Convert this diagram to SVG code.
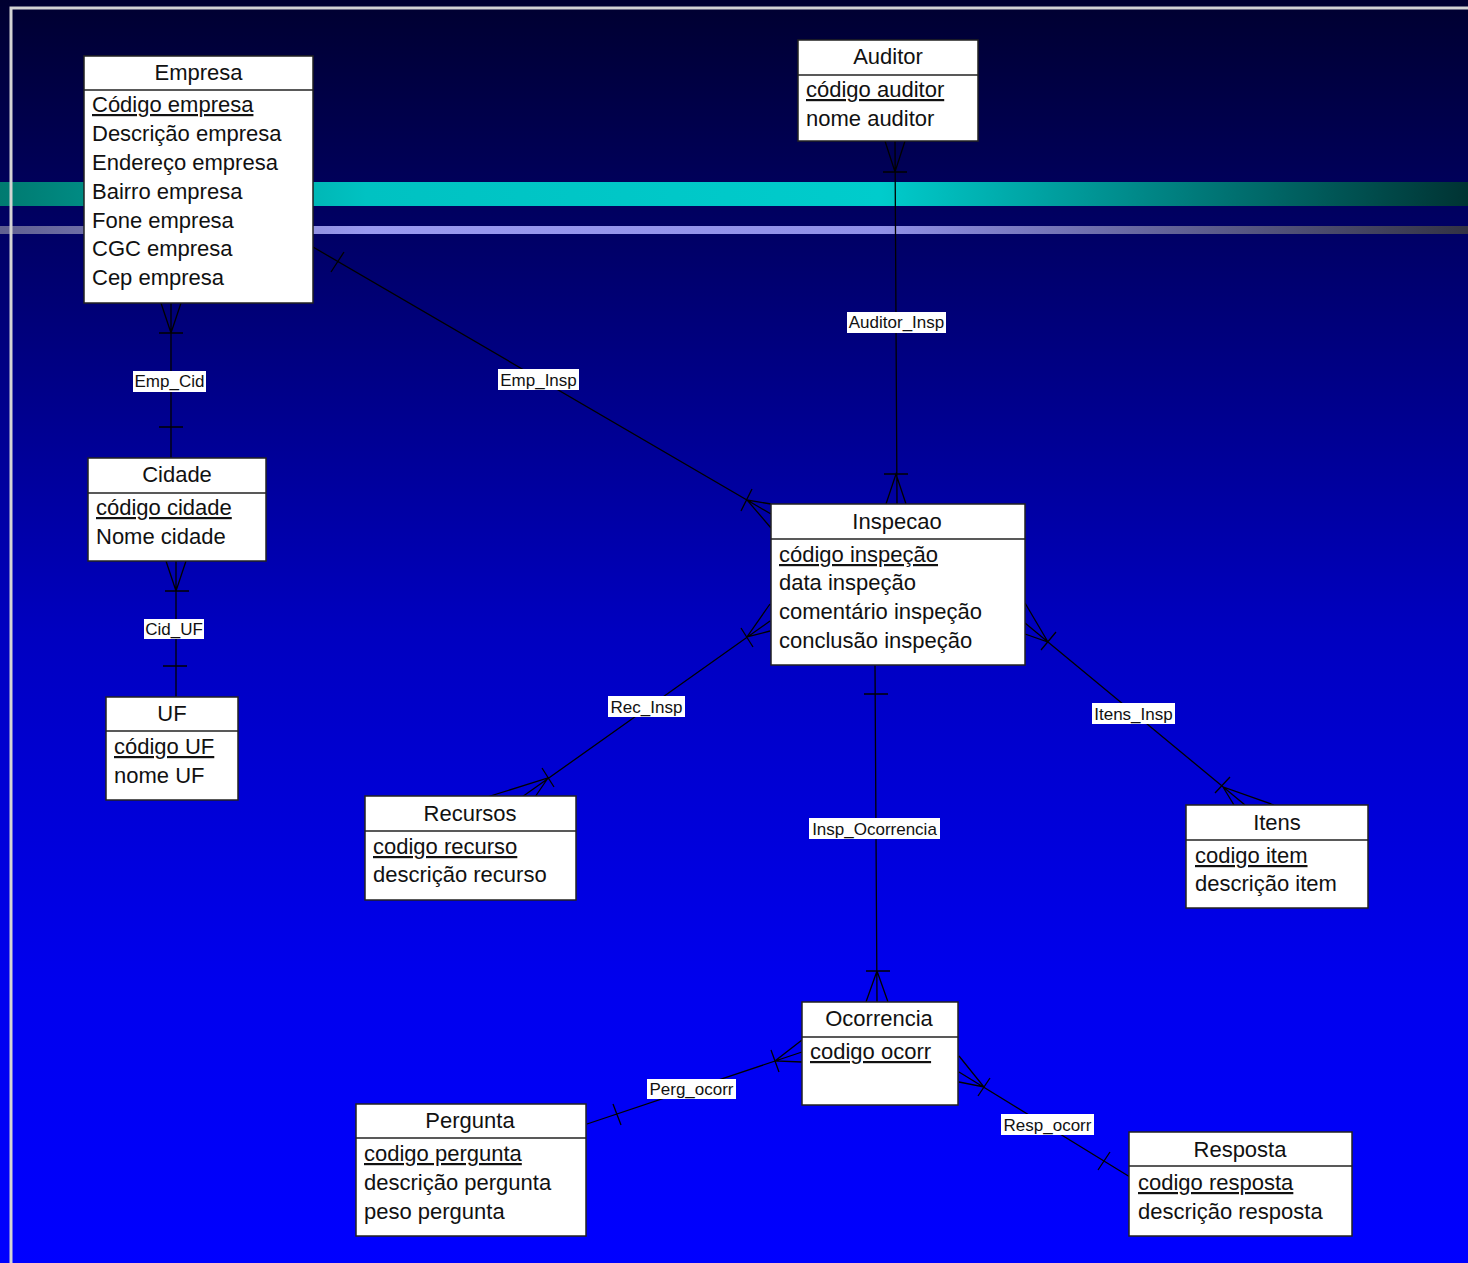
<svg xmlns="http://www.w3.org/2000/svg" width="1468" height="1263" viewBox="0 0 1468 1263">
<defs>
<linearGradient id="bg" x1="0" y1="0" x2="0" y2="1">
<stop offset="0" stop-color="#000030"/>
<stop offset="0.25" stop-color="#000078"/>
<stop offset="0.5" stop-color="#0000c0"/>
<stop offset="0.78" stop-color="#0000ee"/>
<stop offset="1" stop-color="#0000ff"/>
</linearGradient>
<linearGradient id="teal" x1="0" y1="0" x2="1" y2="0">
<stop offset="0" stop-color="#007a70"/>
<stop offset="0.25" stop-color="#00c2c2"/>
<stop offset="0.6" stop-color="#00cccc"/>
<stop offset="1" stop-color="#003333"/>
</linearGradient>
<linearGradient id="lav" x1="0" y1="0" x2="1" y2="0">
<stop offset="0" stop-color="#606090"/>
<stop offset="0.25" stop-color="#9999f0"/>
<stop offset="0.6" stop-color="#9090e8"/>
<stop offset="1" stop-color="#333344"/>
</linearGradient>
<style>
.box{fill:#fff;stroke:#222;stroke-width:1.5}
.sep{stroke:#222;stroke-width:1.5}
.t{font-family:"Liberation Sans",Arial,sans-serif;font-size:22px;fill:#111}
.c{text-anchor:middle}
.k{text-decoration:underline}
.ln{stroke:#000;stroke-width:1.3;fill:none}
.lb{fill:#fff}
.lt{font-family:"Liberation Sans",Arial,sans-serif;font-size:17px;fill:#111;text-anchor:middle}
</style>
</defs>
<rect x="0" y="0" width="1468" height="1263" fill="url(#bg)"/>
<rect x="0" y="182" width="1468" height="24" fill="url(#teal)"/>
<rect x="0" y="226" width="1468" height="8" fill="url(#lav)"/>
<path d="M11,1263 V8 H1468" fill="none" stroke="#d4d4d4" stroke-width="3"/>

<g id="connectors">
<!-- Emp_Cid -->
<path class="ln" d="M171,303 V458 M161,303 L171,333 L181,303 M159,333 H183 M159,427 H183"/>
<!-- Cid_UF -->
<path class="ln" d="M176,561 V697 M166,561 L176,591 L186,561 M165,591 H189 M163,666 H187"/>
<!-- Emp_Insp -->
<path class="ln" d="M313,247 L771,514 M331,272 L344,252 M771,504 L747,500 L771,528 M741,511 L752,489"/>
<!-- Auditor_Insp -->
<path class="ln" d="M895,141 L897,504 M885,141 L895,172 L905,141 M883,172 H907 M886,504 L896,474 L906,504 M884,474 H908"/>
<!-- Rec_Insp -->
<path class="ln" d="M522,797 L770,621 M487,797 L548,778 L535,797 M542,768 L554,787 M770,604 L747,637 L770,631 M741,628 L753,647"/>
<!-- Itens_Insp -->
<path class="ln" d="M1025,623 L1245,805 M1025,603 L1048,642 L1025,634 M1041,650 L1056,632 M1234,805 L1223,787 L1274,805 M1215,793 L1230,777"/>
<!-- Insp_Ocorrencia -->
<path class="ln" d="M875,665 L877,1002 M864,694 H888 M866,971 H890 M866,1002 L877,971 L888,1002"/>
<!-- Perg_ocorr -->
<path class="ln" d="M587,1124 L802,1052 M613,1104 L621,1125 M802,1040 L775,1061 L802,1062 M771,1050 L779,1072"/>
<!-- Resp_ocorr -->
<path class="ln" d="M959,1072 L1130,1177 M959,1056 L984,1087 L959,1082 M978,1096 L990,1078 M1098,1170 L1110,1152"/>
<g id="labels">
<rect class="lb" x="133" y="371" width="73" height="21"/><text class="lt" x="169.5" y="387">Emp_Cid</text>
<rect class="lb" x="498" y="369" width="81" height="21"/><text class="lt" x="538.5" y="386">Emp_Insp</text>
<rect class="lb" x="847" y="312" width="99" height="21"/><text class="lt" x="896.5" y="328">Auditor_Insp</text>
<rect class="lb" x="144" y="619" width="60" height="20"/><text class="lt" x="174" y="635">Cid_UF</text>
<rect class="lb" x="608" y="696" width="77" height="21"/><text class="lt" x="646.5" y="713">Rec_Insp</text>
<rect class="lb" x="1092" y="703" width="83" height="21"/><text class="lt" x="1133.5" y="720">Itens_Insp</text>
<rect class="lb" x="809" y="818" width="131" height="21"/><text class="lt" x="874.5" y="835">Insp_Ocorrencia</text>
<rect class="lb" x="647" y="1079" width="89" height="20"/><text class="lt" x="691.5" y="1095">Perg_ocorr</text>
<rect class="lb" x="1001" y="1114" width="93" height="21"/><text class="lt" x="1047.5" y="1131">Resp_ocorr</text>
</g>
</g>

<g id="empresa">
<rect class="box" x="84" y="56" width="229" height="247"/>
<line class="sep" x1="84" y1="90" x2="313" y2="90"/>
<text class="t c" x="198.5" y="80">Empresa</text>
<text class="t k" x="92" y="112">Código empresa</text>
<text class="t" x="92" y="141">Descrição empresa</text>
<text class="t" x="92" y="170">Endereço empresa</text>
<text class="t" x="92" y="199">Bairro empresa</text>
<text class="t" x="92" y="228">Fone empresa</text>
<text class="t" x="92" y="256">CGC empresa</text>
<text class="t" x="92" y="285">Cep empresa</text>
</g>

<g id="auditor">
<rect class="box" x="798" y="40" width="180" height="101"/>
<line class="sep" x1="798" y1="75" x2="978" y2="75"/>
<text class="t c" x="888" y="64">Auditor</text>
<text class="t k" x="806" y="97">código auditor</text>
<text class="t" x="806" y="126">nome auditor</text>
</g>

<g id="cidade">
<rect class="box" x="88" y="458" width="178" height="103"/>
<line class="sep" x1="88" y1="493" x2="266" y2="493"/>
<text class="t c" x="177" y="482">Cidade</text>
<text class="t k" x="96" y="515">código cidade</text>
<text class="t" x="96" y="544">Nome cidade</text>
</g>

<g id="uf">
<rect class="box" x="106" y="697" width="132" height="103"/>
<line class="sep" x1="106" y1="731" x2="238" y2="731"/>
<text class="t c" x="172" y="721">UF</text>
<text class="t k" x="114" y="754">código UF</text>
<text class="t" x="114" y="783">nome UF</text>
</g>

<g id="inspecao">
<rect class="box" x="771" y="504" width="254" height="161"/>
<line class="sep" x1="771" y1="539" x2="1025" y2="539"/>
<text class="t c" x="897" y="529">Inspecao</text>
<text class="t k" x="779" y="562">código inspeção</text>
<text class="t" x="779" y="590">data inspeção</text>
<text class="t" x="779" y="619">comentário inspeção</text>
<text class="t" x="779" y="648">conclusão inspeção</text>
</g>

<g id="recursos">
<rect class="box" x="365" y="796" width="211" height="104"/>
<line class="sep" x1="365" y1="831" x2="576" y2="831"/>
<text class="t c" x="470" y="821">Recursos</text>
<text class="t k" x="373" y="854">codigo recurso</text>
<text class="t" x="373" y="882">descrição recurso</text>
</g>

<g id="itens">
<rect class="box" x="1186" y="805" width="182" height="103"/>
<line class="sep" x1="1186" y1="840" x2="1368" y2="840"/>
<text class="t c" x="1277" y="830">Itens</text>
<text class="t k" x="1195" y="863">codigo item</text>
<text class="t" x="1195" y="891">descrição item</text>
</g>

<g id="ocorrencia">
<rect class="box" x="802" y="1002" width="156" height="103"/>
<line class="sep" x1="802" y1="1037" x2="958" y2="1037"/>
<text class="t c" x="879" y="1026">Ocorrencia</text>
<text class="t k" x="810" y="1059">codigo ocorr</text>
</g>

<g id="pergunta">
<rect class="box" x="356" y="1104" width="230" height="132"/>
<line class="sep" x1="356" y1="1138" x2="586" y2="1138"/>
<text class="t c" x="470" y="1128">Pergunta</text>
<text class="t k" x="364" y="1161">codigo pergunta</text>
<text class="t" x="364" y="1190">descrição pergunta</text>
<text class="t" x="364" y="1219">peso pergunta</text>
</g>

<g id="resposta">
<rect class="box" x="1129" y="1132" width="223" height="104"/>
<line class="sep" x1="1129" y1="1166" x2="1352" y2="1166"/>
<text class="t c" x="1240" y="1157">Resposta</text>
<text class="t k" x="1138" y="1190">codigo resposta</text>
<text class="t" x="1138" y="1219">descrição resposta</text>
</g>
</svg>
